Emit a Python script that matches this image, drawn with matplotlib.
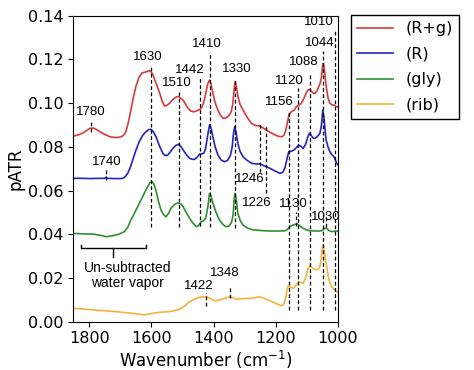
import matplotlib
matplotlib.use('Agg')
import matplotlib.pyplot as plt

# Spectra (wavenumber in cm-1, pATR)
wn_Rg = [1848, 1835, 1822, 1808, 1797, 1786, 1774, 1760, 1746, 1732, 1719, 1708, 1698, 1690, 1682, 1674,
         1666, 1658, 1650, 1640, 1630, 1618, 1608, 1601, 1595, 1585, 1573, 1565, 1558, 1550, 1542, 1534,
         1526, 1518, 1512, 1505, 1498, 1490, 1482, 1474, 1466, 1458, 1450, 1443, 1438, 1432, 1425, 1419,
         1413, 1408, 1402, 1395, 1386, 1378, 1370, 1360, 1350, 1343, 1338, 1334, 1331, 1327, 1322, 1315,
         1305, 1292, 1278, 1265, 1251, 1240, 1230, 1218, 1208, 1195, 1182, 1174, 1168, 1162, 1157, 1150,
         1141, 1133, 1126, 1119, 1112, 1104, 1097, 1092, 1086, 1080, 1074, 1068, 1062, 1057, 1053, 1050,
         1047, 1044, 1041, 1037, 1032, 1026, 1020, 1013, 1004, 1000]
pATR_Rg = [0.0850, 0.0855, 0.0862, 0.0875, 0.0885, 0.0886, 0.0877, 0.0864, 0.0854, 0.0846, 0.0843, 0.0843,
           0.0846, 0.0852, 0.0869, 0.0912, 0.0968, 0.1025, 0.1075, 0.1118, 0.1138, 0.1143, 0.1148, 0.1144,
           0.1130, 0.1092, 0.1045, 0.1008, 0.0987, 0.0990, 0.0999, 0.1012, 0.1022, 0.1030, 0.1029, 0.1022,
           0.1014, 0.0995, 0.0976, 0.0965, 0.0961, 0.0962, 0.0968, 0.0972, 0.0980, 0.1002, 0.1045, 0.1088,
           0.1106, 0.1088, 0.1045, 0.1002, 0.0968, 0.0945, 0.0931, 0.0932, 0.0944, 0.0962, 0.0998, 0.1060,
           0.1098, 0.1080, 0.1032, 0.0995, 0.0968, 0.0935, 0.0907, 0.0898, 0.0895, 0.0886, 0.0877, 0.0866,
           0.0859, 0.0850, 0.0846, 0.0852, 0.0875, 0.0915, 0.0950, 0.0960, 0.0968, 0.0985, 0.0991, 0.0998,
           0.1014, 0.1040, 0.1060, 0.1063, 0.1055, 0.1046, 0.1045, 0.1055, 0.1075, 0.1092, 0.1120, 0.1165,
           0.1182, 0.1160, 0.1115, 0.1068, 0.1025, 0.1000, 0.0993, 0.0991, 0.0984, 0.0982]

wn_R = [1848, 1820, 1795, 1768, 1750, 1746, 1742, 1720, 1700, 1692, 1684, 1676, 1668, 1660, 1650, 1639,
        1628, 1618, 1608, 1601, 1594, 1585, 1575, 1563, 1555, 1547, 1539, 1531, 1522, 1513, 1504, 1494,
        1486, 1477, 1469, 1461, 1453, 1445, 1438, 1432, 1426, 1419, 1413, 1408, 1402, 1395, 1386, 1376,
        1365, 1355, 1346, 1340, 1336, 1332, 1328, 1322, 1315, 1305, 1292, 1278, 1265, 1251, 1235, 1219,
        1203, 1187, 1178, 1171, 1164, 1158, 1150, 1141, 1133, 1126, 1119, 1112, 1104, 1097, 1092, 1086,
        1080, 1074, 1066, 1058, 1053, 1049, 1045, 1041, 1038, 1032, 1026, 1020, 1013, 1004, 1000]
pATR_R = [0.0656, 0.0656, 0.0655, 0.0656, 0.0656, 0.0661, 0.0656, 0.0655, 0.0655, 0.0656, 0.0664, 0.0679,
          0.0705, 0.0740, 0.0783, 0.0824, 0.0852, 0.0869, 0.0879, 0.0880, 0.0870, 0.0846, 0.0808, 0.0770,
          0.0760, 0.0763, 0.0777, 0.0793, 0.0806, 0.0812, 0.0800, 0.0778, 0.0762, 0.0748, 0.0743, 0.0743,
          0.0752, 0.0767, 0.0768, 0.0770, 0.0790, 0.0852, 0.0900, 0.0885, 0.0846, 0.0800, 0.0763, 0.0740,
          0.0732, 0.0738, 0.0760, 0.0800, 0.0860, 0.0892, 0.0870, 0.0816, 0.0780, 0.0755, 0.0738, 0.0725,
          0.0722, 0.0722, 0.0712, 0.0702, 0.0690, 0.0679, 0.0683, 0.0702, 0.0745, 0.0778, 0.0780, 0.0786,
          0.0798, 0.0808, 0.0802, 0.0793, 0.0812, 0.0845, 0.0862, 0.0852, 0.0840, 0.0839, 0.0848, 0.0862,
          0.0900, 0.0968, 0.0935, 0.0870, 0.0831, 0.0800, 0.0778, 0.0765, 0.0755, 0.0725, 0.0718]

wn_gly = [1848, 1818, 1788, 1765, 1746, 1730, 1713, 1700, 1687, 1676, 1666, 1655, 1644, 1633, 1623, 1612,
          1604, 1598, 1592, 1585, 1577, 1569, 1561, 1553, 1545, 1537, 1525, 1513, 1505, 1498, 1488, 1477,
          1466, 1455, 1448, 1440, 1432, 1425, 1418, 1413, 1408, 1402, 1392, 1381, 1370, 1360, 1350, 1342,
          1337, 1334, 1331, 1327, 1322, 1314, 1305, 1290, 1273, 1245, 1219, 1195, 1171, 1162, 1155, 1145,
          1136, 1131, 1122, 1112, 1100, 1090, 1074, 1058, 1050, 1047, 1043, 1036, 1028, 1020, 1012, 1004, 1000]
pATR_gly = [0.0404, 0.0402, 0.0401, 0.0396, 0.0389, 0.0392, 0.0397, 0.0403, 0.0412, 0.0432, 0.0465, 0.0495,
            0.0526, 0.0558, 0.0587, 0.0618, 0.0637, 0.0641, 0.0630, 0.0600, 0.0550, 0.0511, 0.0490, 0.0480,
            0.0495, 0.0519, 0.0537, 0.0544, 0.0538, 0.0526, 0.0500, 0.0473, 0.0450, 0.0435, 0.0440, 0.0458,
            0.0462, 0.0475, 0.0530, 0.0587, 0.0575, 0.0542, 0.0500, 0.0465, 0.0445, 0.0435, 0.0438, 0.0455,
            0.0490, 0.0560, 0.0587, 0.0560, 0.0496, 0.0462, 0.0442, 0.0428, 0.0420, 0.0417, 0.0415, 0.0415,
            0.0416, 0.0422, 0.0435, 0.0442, 0.0446, 0.0447, 0.0438, 0.0427, 0.0420, 0.0416, 0.0415, 0.0415,
            0.0418, 0.0422, 0.0428, 0.0427, 0.0416, 0.0412, 0.0414, 0.0415, 0.0413]

wn_rib = [1848, 1818, 1788, 1750, 1713, 1685, 1660, 1640, 1623, 1605, 1585, 1565, 1542, 1522, 1504, 1490,
          1477, 1460, 1445, 1434, 1424, 1412, 1397, 1386, 1376, 1362, 1348, 1337, 1326, 1316, 1300, 1284,
          1268, 1252, 1235, 1219, 1203, 1187, 1180, 1174, 1168, 1163, 1160, 1152, 1143, 1134, 1126, 1119,
          1112, 1104, 1097, 1092, 1085, 1074, 1066, 1060, 1055, 1051, 1048, 1045, 1041, 1038, 1032, 1026,
          1016, 1004, 1000]
pATR_rib = [0.0061, 0.0058, 0.0054, 0.0050, 0.0046, 0.0042, 0.0038, 0.0035, 0.0031, 0.0036, 0.0041, 0.0044,
            0.0046, 0.0052, 0.0061, 0.0075, 0.0092, 0.0104, 0.0112, 0.0114, 0.0114, 0.0108, 0.0096, 0.0098,
            0.0102, 0.0108, 0.0114, 0.0110, 0.0102, 0.0104, 0.0106, 0.0107, 0.0110, 0.0114, 0.0106, 0.0096,
            0.0086, 0.0076, 0.0074, 0.0082, 0.0110, 0.0150, 0.0163, 0.0158, 0.0153, 0.0168, 0.0183, 0.0180,
            0.0176, 0.0200, 0.0240, 0.0255, 0.0250, 0.0237, 0.0240, 0.0244, 0.0275, 0.0330, 0.0351, 0.0335,
            0.0295, 0.0267, 0.0215, 0.0176, 0.0153, 0.0137, 0.0135]

# Peak labels: long dashed guides (label, x of line, y bottom, y top, text x, text y)
long_peaks = [
    ('1630', 1601, 0.0433, 0.1174, 1610, 0.1210),
    ('1510', 1512, 0.0433, 0.1060, 1519, 0.1090),
    ('1442', 1445, 0.0440, 0.1120, 1477, 0.1150),
    ('1410', 1413, 0.0433, 0.1230, 1423, 0.1270),
    ('1330', 1332, 0.0430, 0.1110, 1326, 0.1156),
    ('1246', 1252, 0.0686, 0.0914, 1284, 0.0652),
    ('1226', 1230, 0.0589, 0.0900, 1261, 0.0543),
    ('1156', 1157, 0.0053, 0.0968, 1190, 0.1006),
    ('1120', 1128, 0.0053, 0.1070, 1155, 0.1100),
    ('1088', 1090, 0.0053, 0.1140, 1110, 0.1190),
    ('1044', 1048, 0.0053, 0.1240, 1058, 0.1275),
    ('1010', 1010, 0.0053, 0.1340, 1061, 0.1370),
]
# short ticks on a single trace
short_peaks = [
    ('1780', 1794, 0.0869, 0.0922, 1795, 0.0960),
    ('1740', 1746, 0.0648, 0.0703, 1745, 0.0732),
    ('1130', 1136, 0.0440, 0.0500, 1142, 0.0538),
    ('1030', 1039, 0.0433, 0.0497, 1039, 0.0480),
    ('1422', 1424, 0.0072, 0.0131, 1448, 0.0163),
    ('1348', 1348, 0.0108, 0.0159, 1365, 0.0223),
]

fig = plt.figure(figsize=(4.74, 3.70), dpi=100)
ax = fig.add_axes([0.154, 0.1305, 0.559, 0.827])

ax.plot(wn_Rg, pATR_Rg, color='#d93a3a', lw=1.2, label='(R+g)')
ax.plot(wn_R, pATR_R, color='#2424c0', lw=1.2, label='(R)')
ax.plot(wn_gly, pATR_gly, color='#2f8f2f', lw=1.2, label='(gly)')
ax.plot(wn_rib, pATR_rib, color='#f0b53a', lw=1.2, label='(rib)')

afont = dict(family=['Liberation Sans', 'DejaVu Sans'], size=9.5)
for lab, x, y0, y1, tx, ty in long_peaks + short_peaks:
    ax.plot([x, x], [y0, y1], color='black', lw=0.9, linestyle=(0, (3, 2)))
    ax.text(tx, ty, lab, ha='center', va='center', **afont)

# bracket for the water vapour region
ax.plot([1826, 1826, 1616, 1616], [0.0351, 0.0337, 0.0337, 0.0351], color='black', lw=1.0)
ax.plot([1723, 1723], [0.0337, 0.0296], color='black', lw=1.0)
ax.text(1677, 0.0213, 'Un-subtracted\nwater vapor', ha='center', va='center',
        linespacing=1.1, family=['Liberation Sans', 'DejaVu Sans'], size=10)

ax.set_xlim(1852, 1000)
ax.set_ylim(0, 0.14)
ax.set_xticks([1800, 1600, 1400, 1200, 1000])
ax.set_yticks([0.00, 0.02, 0.04, 0.06, 0.08, 0.10, 0.12, 0.14])
ax.set_yticklabels(['0.00', '0.02', '0.04', '0.06', '0.08', '0.10', '0.12', '0.14'])
ax.tick_params(labelsize=11.5)
ax.set_xlabel('Wavenumber (cm$^{-1}$)', fontsize=12, labelpad=2)
ax.set_ylabel('pATR', fontsize=12, labelpad=2)

leg = ax.legend(loc='upper left', bbox_to_anchor=(0.7405, 0.9595), bbox_transform=fig.transFigure,
                borderaxespad=0, fontsize=11.5, fancybox=False, framealpha=1, handlelength=2.2,
                labelspacing=0.65)
leg.get_frame().set_edgecolor('black')
leg.get_frame().set_linewidth(1.0)

fig.savefig('out.png', dpi=100)
